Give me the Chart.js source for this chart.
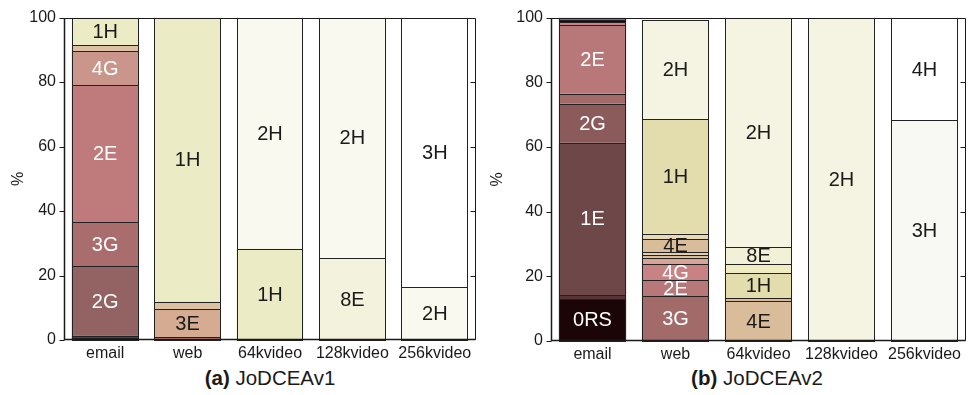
<!DOCTYPE html>
<html>
<head>
<meta charset="utf-8">
<script src="https://cdn.jsdelivr.net/npm/chart.js@4.4.1/dist/chart.umd.min.js"></script>
<style>
  html, body { margin: 0; padding: 0; background: #ffffff; }
  body { width: 979px; height: 395px; position: relative; overflow: hidden;
         font-family: "Liberation Sans", Arial, Helvetica, sans-serif; }
  .panel { position: absolute; top: 0; }
  #p1 { left: 0; }
  #p2 { left: 487px; }
  .cap { position: absolute; top: 366px; font-size: 20.5px; color: #1a1a1a;
         transform: translateX(-50%); white-space: nowrap; }
  .cap b { font-weight: bold; }
</style>
</head>
<body>
<div class="panel" id="p1"><canvas id="c1" width="490" height="362"></canvas></div>
<div class="panel" id="p2"><canvas id="c2" width="492" height="362"></canvas></div>
<div class="cap" style="left:270px;"><b>(a)</b> JoDCEAv1</div>
<div class="cap" style="left:757px;"><b>(b)</b> JoDCEAv2</div>

<script>
// Traffic classes on the x axis
const categories = ['email', 'web', '64kvideo', '128kvideo', '256kvideo'];
const yTicks = [0, 20, 40, 60, 80, 100];

// JoDCEAv1: share (%) of each chosen configuration, stacked bottom to top
const v1Email      = [['0RS', 0.6], ['1E', 0.7], ['2G', 21.5], ['3G', 13.8], ['2E', 42.4], ['4G', 10.7], ['4E', 1.7], ['1H', 8.6]];
const v1Web        = [['2E', 0.8], ['3E', 8.8], ['4E', 2.3], ['1H', 88.1]];
const v1Video64    = [['1H', 28.3], ['2H', 71.7]];
const v1Video128   = [['8E', 25.4], ['2H', 74.6]];
const v1Video256   = [['2H', 16.4], ['3H', 83.6]];

// JoDCEAv2: share (%) of each chosen configuration, stacked bottom to top
const v2Email      = [['0RS', 13.0], ['1G', 1.2], ['1E', 47.1], ['2G', 12.1], ['3G', 3.1], ['2E', 21.1], ['4G', 1.0], ['0RS', 0.8], ['4E', 0.6]];
const v2Web        = [['3G', 13.8], ['2E', 5.0], ['4G', 5.0], ['5G', 2.0], ['3E', 0.7], ['5E', 0.9], ['4E', 4.1], ['6E', 1.7], ['1H', 35.3], ['2H', 30.9]];
const v2Video64    = [['4E', 12.3], ['3E', 0.9], ['1H', 7.8], ['5H', 2.8], ['8E', 5.4], ['2H', 70.6]];
const v2Video128   = [['2H', 99.8]];
const v2Video256   = [['3H', 68.2], ['4H', 31.8]];

// Fill colours per configuration
const v1Fill = {
  '0RS': '#24090a', '1E': '#5e3a3a', '2G': '#936262', '3G': '#a96d6e', '2E': '#bf7b7b',
  '4G': '#ca968c', '4E': '#dcc1a3', '3E': '#d5ab92', '1H': '#ebebc6', '2H': '#f9f9f0',
  '8E': '#f3f2dc', '3H': '#ffffff'
};
const v2Fill = {
  '0RS': '#1c0507', '1G': '#573535', '1E': '#6e4848', '2G': '#8b5b5b', '3G': '#a36a6a',
  '2E': '#b87879', '4G': '#c98283', '5G': '#d9a496', '3E': '#d7b897', '5E': '#e2cdae',
  '4E': '#d9bd9b', '6E': '#e7d9b8', '1H': '#e3dcac', '5H': '#efebc2', '8E': '#f2f0d7',
  '2H': '#f5f3e1', '3H': '#f9f9f3', '4H': '#ffffff'
};

const FONT = '"Liberation Sans", Arial, Helvetica, sans-serif';
const INK = '#1a1a1a';
const EDGE = '#222222';

function luminance(hex) {
  const n = parseInt(hex.slice(1), 16);
  const r = (n >> 16) & 255, g = (n >> 8) & 255, b = n & 255;
  return (0.2126 * r + 0.7152 * g + 0.0722 * b) / 255;
}

// One dataset per stacking layer; each bar carries its own segment list
function buildDatasets(columns, fill) {
  const layers = Math.max(...columns.map(c => c.length));
  const sets = [];
  for (let i = 0; i < layers; i++) {
    sets.push({
      data: columns.map(c => (c[i] ? c[i][1] : null)),
      segNames: columns.map(c => (c[i] ? c[i][0] : '')),
      backgroundColor: columns.map(c => (c[i] ? fill[c[i][0]] : '#ffffff')),
      borderWidth: 0,
      categoryPercentage: 1.0,
      barPercentage: 0.81
    });
  }
  return sets;
}

// Crisp 1px outlines around every segment, then the configuration names
const segmentMarks = {
  id: 'segmentMarks',
  afterDatasetsDraw(chart) {
    const ctx = chart.ctx;
    ctx.save();
    ctx.strokeStyle = EDGE;
    ctx.lineWidth = 1;
    chart.data.datasets.forEach((ds, i) => {
      chart.getDatasetMeta(i).data.forEach((bar, j) => {
        if (ds.data[j] == null) return;
        const p = bar.getProps(['x', 'y', 'base', 'width'], true);
        const l = Math.round(p.x - p.width / 2) + 0.5;
        const r = Math.round(p.x + p.width / 2) - 0.5;
        const t = Math.round(p.y) + 0.5;
        const b = Math.round(p.base) + 0.5;
        ctx.strokeRect(l, t, r - l, b - t);
      });
    });
    ctx.font = '20px ' + FONT;
    ctx.textAlign = 'center';
    ctx.textBaseline = 'middle';
    chart.data.datasets.forEach((ds, i) => {
      chart.getDatasetMeta(i).data.forEach((bar, j) => {
        const v = ds.data[j];
        if (v == null || v < 4) return;
        const p = bar.getProps(['x', 'y', 'base'], true);
        ctx.fillStyle = luminance(ds.backgroundColor[j]) < 0.68 ? '#ffffff' : INK;
        ctx.fillText(ds.segNames[j], p.x, (p.y + p.base) / 2 + 1);
      });
    });
    ctx.restore();
  }
};

// Box around the plot, outward ticks on the left, inward ticks on the right
const frame = {
  id: 'frame',
  afterDraw(chart) {
    const { ctx, chartArea: a } = chart;
    const ys = chart.scales.y;
    ctx.save();
    ctx.strokeStyle = INK;
    ctx.lineWidth = 1;
    const L = Math.round(a.left) + 0.5, R = Math.round(a.right) - 0.5;
    const T = Math.round(a.top) + 0.5, B = Math.round(a.bottom) - 0.5;
    ctx.beginPath();
    ctx.rect(L, T, R - L, B - T);
    ctx.stroke();
    ctx.lineWidth = 1.5;
    ctx.beginPath();
    ctx.moveTo(L, T); ctx.lineTo(L, B); ctx.lineTo(R, B);
    ctx.stroke();
    ctx.lineWidth = 1;
    yTicks.forEach(t => {
      const y = Math.round(ys.getPixelForValue(t)) + 0.5;
      ctx.beginPath();
      ctx.moveTo(L - 5, y); ctx.lineTo(L, y);
      if (t > 0 && t < 100) { ctx.moveTo(R - 5, y); ctx.lineTo(R, y); }
      ctx.stroke();
    });
    ctx.restore();
  }
};

function makeChart(id, columns, fill, pad, titlePad, xAxisH) {
  return new Chart(document.getElementById(id), {
    type: 'bar',
    data: { labels: categories, datasets: buildDatasets(columns, fill) },
    options: {
      responsive: false,
      animation: false,
      events: [],
      layout: { padding: pad },
      plugins: { legend: { display: false }, tooltip: { enabled: false } },
      scales: {
        x: {
          stacked: true,
          offset: true,
          grid: { display: false, drawTicks: false },
          border: { display: false },
          ticks: { color: INK, font: { family: FONT, size: 16 }, padding: 4, maxRotation: 0, autoSkip: false },
          afterFit(s) { s.height = xAxisH; }
        },
        y: {
          stacked: true,
          min: 0, max: 100,
          afterBuildTicks(s) { s.ticks = yTicks.map(v => ({ value: v })); },
          grid: { display: false, drawTicks: false },
          border: { display: false },
          ticks: { color: INK, font: { family: FONT, size: 16 }, padding: 8 },
          title: { display: true, text: '%', color: INK, font: { family: FONT, size: 16 }, padding: { top: titlePad, bottom: 0 } },
          afterFit(s) { s.width = 64; }
        }
      }
    },
    plugins: [segmentMarks, frame]
  });
}

makeChart('c1', [v1Email, v1Web, v1Video64, v1Video128, v1Video256], v1Fill,
          { top: 17, right: 14, left: 0, bottom: 0 }, 9, 22);
makeChart('c2', [v2Email, v2Web, v2Video64, v2Video128, v2Video256], v2Fill,
          { top: 17, right: 13, left: 0, bottom: 0 }, 1, 21);
</script>
</body>
</html>
